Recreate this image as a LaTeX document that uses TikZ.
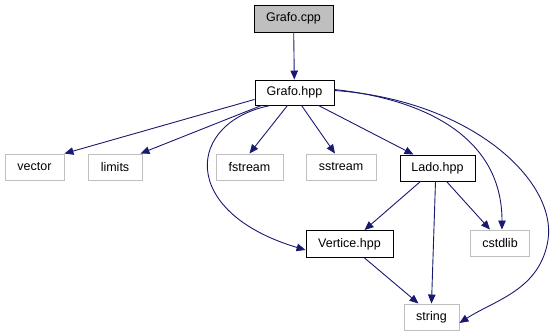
\documentclass[tikz,border=0pt]{standalone}
\usepackage{fontspec}
\setmainfont{Liberation Sans}
\usetikzlibrary{arrows.meta}
\definecolor{edgeblue}{HTML}{191970}
\definecolor{sysgray}{HTML}{BFBFBF}
\tikzset{
  filebox/.style={draw=black, line width=0.9pt, fill=white, inner sep=0pt,
    font=\fontsize{12.5}{14}\selectfont, minimum height=26pt},
  sysbox/.style={filebox, draw=sysgray},
  rootbox/.style={filebox, fill=sysgray},
  dep/.style={draw=edgeblue, line width=0.9pt,
    -{Triangle[length=9pt,width=7.5pt,fill=edgeblue]}},
}
\begin{document}
\begin{tikzpicture}[x=1pt,y=-1pt]
  \useasboundingbox (0,0) rectangle (559,336);
  % files of the project
  \node[rootbox, minimum width=79pt, minimum height=27pt] (cpp) at (293.5,18.5) {Grafo.cpp};
  \node[filebox, minimum width=79pt, minimum height=25pt] (hpp) at (294.5,92.5) {Grafo.hpp};
  \node[filebox, minimum width=75pt] (lado) at (437.5,168) {Lado.hpp};
  \node[filebox, minimum width=87pt, minimum height=27pt] (vert) at (349.5,244) {Vertice.hpp};
  % standard headers
  \node[sysbox, minimum width=59pt] (vector) at (34.5,167) {vector};
  \node[sysbox, minimum width=54pt] (limits) at (115,167) {limits};
  \node[sysbox, minimum width=67pt] (fstream) at (249.5,167) {fstream};
  \node[sysbox, minimum width=70pt] (sstream) at (341,167) {sstream};
  \node[sysbox, minimum width=59pt] (cstdlib) at (500,243) {cstdlib};
  \node[sysbox, minimum width=55pt] (string) at (431.5,317) {string};
  % include edges
  \draw[dep] (cpp) -- (hpp);
  \draw[dep] (hpp.south west) ++(0,-6) -- (vector.north east);
  \draw[dep] ([xshift=7pt]hpp.south west) -- ([xshift=-2pt]limits.north east);
  \draw[dep] ([xshift=-7pt]hpp.south) -- (fstream.north);
  \draw[dep] ([xshift=7pt]hpp.south) -- ([xshift=-6pt]sstream.north);
  \draw[dep] ([xshift=-16pt]hpp.south east) -- ([xshift=-24pt]lado.north);
  \draw[dep] ([xshift=16pt]hpp.south west) .. controls (186,122) and (178,212) .. ([yshift=-6pt]vert.west);
  \draw[dep] ([yshift=3pt]hpp.east) .. controls (430,100) and (502,140) .. ([xshift=2pt]cstdlib.north);
  \draw[dep] ([yshift=2pt]hpp.east) .. controls (470,100) and (557,180) .. (548,240)
    .. controls (540,290) and (495,300) .. ([yshift=-6pt]string.east);
  \draw[dep] ([xshift=-17pt]lado.south) -- ([xshift=15pt]vert.north);
  \draw[dep] ([xshift=-2pt]lado.south) -- (string.north);
  \draw[dep] ([xshift=9pt]lado.south) -- ([xshift=-10pt]cstdlib.north);
  \draw[dep] ([xshift=15pt]vert.south) -- ([xshift=-13pt]string.north);
\end{tikzpicture}
\end{document}
